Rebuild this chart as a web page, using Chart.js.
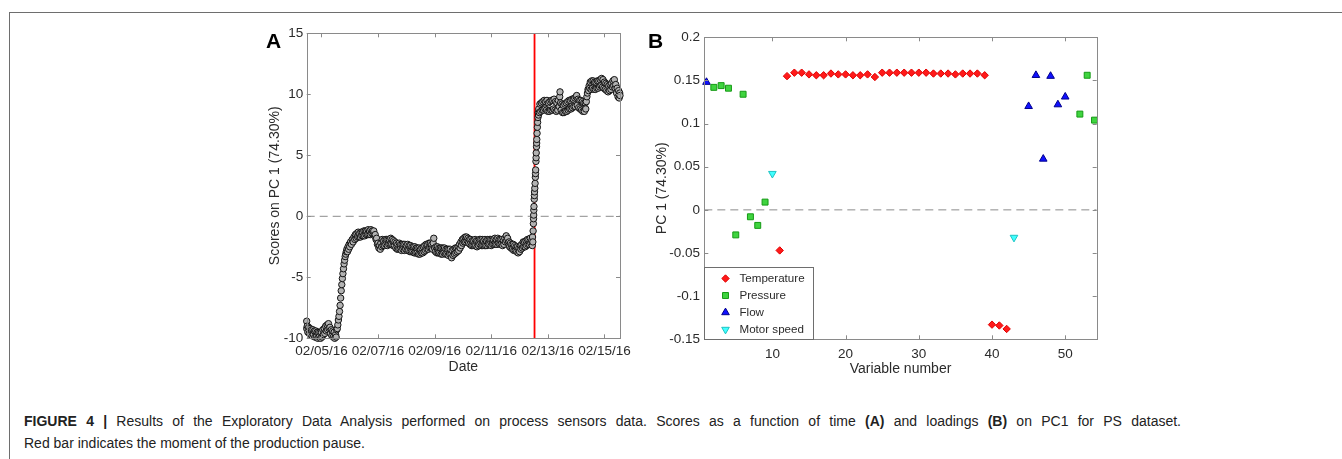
<!DOCTYPE html>
<html>
<head>
<meta charset="utf-8">
<script src="https://cdn.jsdelivr.net/npm/chart.js@4.4.1/dist/chart.umd.min.js"></script>
<style>
  html, body { margin: 0; padding: 0; background: #fff; }
  body { width: 1342px; height: 459px; position: relative; overflow: hidden;
         font-family: "Liberation Sans", Arial, Helvetica, sans-serif; }
  .frame { position: absolute; left: 9px; top: 12px; width: 1340px; height: 460px;
           border-top: 1px solid #6e6e6e; border-left: 1px solid #6e6e6e; }
  .wrap { position: absolute; }
  #wrapA { left: 250px; top: 20px; }
  #wrapB { left: 640px; top: 20px; }
  .tag { position: absolute; font-weight: bold; font-size: 21px; color: #000; line-height: 1; }
  .caption { position: absolute; left: 24px; font-size: 14px; color: #222; line-height: 22px; white-space: nowrap; }
  .justify { width: 1157px; text-align: justify; text-align-last: justify; white-space: normal; }
</style>
</head>
<body>
<div class="frame"></div>
<div class="wrap" id="wrapA"><canvas id="chartA" width="390" height="370"></canvas></div>
<div class="wrap" id="wrapB"><canvas id="chartB" width="470" height="375"></canvas></div>
<div class="tag" style="left:266px; top:30px;">A</div>
<div class="tag" style="left:648px; top:30px;">B</div>
<div class="caption justify" style="top:410px;"><b>FIGURE 4 |</b> Results of the Exploratory Data Analysis performed on process sensors data. Scores as a function of time <b>(A)</b> and loadings <b>(B)</b> on PC1 for PS dataset.</div>
<div class="caption" style="top:432px;">Red bar indicates the moment of the production pause.</div>

<script>
// panel A: scores on PC1 over time, [day of Feb 2016, score]
const scorePoints = [
  [4.48,-8.6],[4.48,-9.2],[4.50,-9.0],[4.52,-9.5],[4.55,-9.1],[4.57,-9.6],[4.60,-9.2],[4.62,-9.7],[4.65,-9.3],
  [4.67,-9.8],[4.70,-9.3],[4.72,-9.7],[4.75,-9.4],[4.77,-9.9],[4.80,-9.4],[4.82,-9.9],[4.85,-9.5],[4.87,-10.0],
  [4.90,-9.5],[4.92,-9.9],[4.95,-9.5],[4.97,-10.0],[5.00,-9.5],[5.02,-9.9],[5.05,-9.3],[5.07,-9.7],[5.10,-9.2],
  [5.12,-9.6],[5.15,-9.0],[5.17,-9.4],[5.20,-8.9],[5.22,-9.3],[5.25,-8.8],[5.27,-9.2],[5.30,-9.1],[5.32,-9.6],
  [5.35,-9.3],[5.37,-9.8],[5.40,-9.4],[5.42,-9.9],[5.45,-9.5],[5.47,-10.0],[5.50,-9.7],[5.52,-9.9],[5.54,-9.3],
  [5.56,-9.2],[5.58,-8.9],[5.60,-8.5],[5.62,-8.2],[5.64,-7.8],[5.66,-7.3],[5.68,-6.7],[5.70,-6.1],[5.72,-5.6],
  [5.74,-5.1],[5.76,-4.7],[5.78,-4.3],[5.80,-3.9],[5.82,-3.6],[5.84,-3.3],[5.86,-3.1],[5.88,-2.9],[5.90,-2.7],
  [5.92,-2.9],[5.94,-2.5],[5.96,-2.7],[5.98,-2.3],[6.00,-2.5],[6.03,-2.1],[6.06,-2.3],[6.09,-1.9],[6.12,-2.1],
  [6.15,-1.7],[6.18,-1.9],
  [6.20,-1.5],[6.23,-1.8],[6.25,-1.4],[6.28,-1.7],[6.30,-1.3],[6.33,-1.7],[6.35,-1.4],[6.38,-1.7],[6.40,-1.3],
  [6.43,-1.6],[6.45,-1.3],[6.48,-1.6],[6.50,-1.2],[6.53,-1.6],[6.55,-1.2],[6.58,-1.5],[6.60,-1.2],[6.63,-1.5],
  [6.65,-1.1],[6.68,-1.5],[6.70,-1.2],[6.73,-1.5],[6.75,-1.1],[6.78,-1.4],[6.80,-1.2],[6.83,-1.5],[6.85,-1.2],
  [6.88,-1.6],[6.90,-1.5],[6.93,-1.9],[6.95,-1.8],[6.98,-2.3],[7.00,-2.2],[7.03,-2.6],[7.05,-2.4],[7.08,-2.7],
  [7.10,-2.2],[7.13,-2.5],[7.15,-1.9],[7.18,-2.4],[7.20,-2.0],[7.23,-2.4],[7.25,-1.9],[7.28,-2.3],[7.30,-1.9],
  [7.33,-2.4],[7.35,-1.9],[7.38,-2.3],[7.40,-1.9],[7.43,-2.3],[7.45,-1.8],[7.48,-2.3],[7.50,-1.9],[7.53,-2.4],
  [7.55,-2.0],[7.58,-2.4],[7.60,-2.1],[7.63,-2.6],[7.65,-2.2],[7.68,-2.7],[7.70,-2.3],[7.73,-2.7],[7.75,-2.2],
  [7.78,-2.7],[7.80,-2.3],[7.83,-2.8],[7.85,-2.3],[7.88,-2.7],[7.90,-2.3],[7.93,-2.8],[7.95,-2.3],[7.98,-2.7],
  [8.00,-2.4],[8.03,-2.8],[8.05,-2.3],[8.08,-2.8],[8.10,-2.4],[8.13,-2.9],[8.15,-2.4],[8.18,-2.9],[8.20,-2.5],
  [8.23,-2.9],[8.25,-2.5],[8.28,-3.0],[8.30,-2.5],[8.33,-3.0],[8.35,-2.6],[8.38,-3.0],[8.40,-2.6],[8.43,-3.1],
  [8.45,-2.6],[8.48,-3.1],[8.50,-2.7],[8.53,-3.0],[8.55,-2.6],[8.58,-3.0],[8.60,-2.5],[8.63,-2.9],[8.65,-2.4],
  [8.68,-2.8],[8.70,-2.3],[8.73,-2.7],[8.75,-2.3],[8.78,-2.7],[8.80,-2.2],[8.83,-2.6],[8.85,-2.2],[8.88,-2.6],
  [8.90,-2.3],[8.93,-2.7],[8.95,-2.2],[8.97,-1.8],[9.00,-2.6],[9.03,-2.9],[9.05,-2.5],[9.08,-3.0],[9.10,-2.5],
  [9.13,-3.0],[9.15,-2.6],[9.18,-3.0],[9.20,-2.6],[9.23,-3.1],[9.25,-2.6],[9.28,-3.1],[9.30,-2.6],[9.33,-3.0],
  [9.35,-2.6],[9.38,-3.1],[9.40,-2.7],[9.43,-3.1],[9.45,-2.7],[9.48,-3.2],[9.50,-2.7],[9.53,-3.1],[9.55,-2.7],
  [9.58,-3.1],[9.60,-3.4],[9.62,-2.8],[9.65,-3.2],[9.68,-2.7],[9.70,-3.1],[9.73,-2.6],[9.75,-3.0],[9.78,-2.6],
  [9.80,-2.9],[9.83,-2.5],[9.85,-2.8],[9.88,-2.3],[9.90,-2.6],[9.93,-2.1],[9.95,-2.4],[9.98,-1.9],[10.00,-2.2],
  [10.03,-1.8],[10.05,-2.1],[10.08,-1.7],[10.10,-2.1],[10.13,-1.7],[10.15,-2.0],[10.18,-1.8],[10.20,-2.2],
  [10.23,-1.9],[10.25,-2.3],[10.28,-1.9],[10.30,-2.4],[10.33,-2.0],[10.35,-2.4],[10.38,-2.0],[10.40,-2.4],
  [10.43,-1.9],[10.45,-2.4],[10.48,-2.0],[10.50,-2.5],[10.53,-2.0],[10.55,-2.4],[10.58,-1.9],[10.60,-2.3],
  [10.63,-1.9],[10.65,-2.4],[10.68,-1.9],[10.70,-2.4],[10.73,-2.0],[10.75,-2.4],[10.78,-1.9],[10.80,-2.4],
  [10.83,-2.0],[10.85,-2.4],[10.88,-1.9],[10.90,-2.3],[10.93,-1.9],[10.95,-2.3],[10.98,-1.9],[11.00,-2.4],
  [11.03,-1.9],[11.05,-2.3],[11.08,-1.9],[11.10,-2.3],[11.13,-1.8],[11.15,-2.3],[11.18,-1.9],[11.20,-2.3],
  [11.23,-1.8],[11.25,-2.2],[11.28,-1.9],[11.30,-2.3],[11.33,-1.9],[11.35,-2.3],[11.38,-1.9],[11.40,-2.4],
  [11.43,-2.0],[11.45,-2.3],[11.48,-1.8],[11.50,-2.1],[11.53,-1.6],[11.55,-2.0],[11.58,-1.8],[11.60,-2.2],
  [11.63,-2.1],[11.65,-2.5],[11.68,-2.2],[11.70,-2.6],[11.73,-2.3],[11.75,-2.7],[11.78,-2.3],[11.80,-2.8],
  [11.83,-2.4],[11.85,-2.8],[11.88,-2.5],[11.90,-2.9],[11.93,-2.5],[11.95,-3.0],[11.98,-2.6],[12.00,-2.9],
  [12.03,-2.4],[12.05,-2.7],[12.08,-2.3],[12.10,-2.6],[12.13,-2.1],[12.15,-2.5],[12.18,-2.1],[12.20,-2.5],
  [12.23,-2.0],[12.25,-2.4],[12.28,-1.9],[12.30,-2.3],[12.33,-1.9],[12.35,-2.3],[12.38,-1.8],[12.40,-2.2],
  [12.43,-2.0],[12.45,-2.4],[12.46,-1.7],[12.47,-2.1],
  [12.48,-1.2],[12.49,-0.6],[12.495,-0.2],[12.50,0.1],[12.505,0.5],[12.51,0.8],[12.52,1.4],[12.525,1.7],
  [12.53,2.0],[12.54,2.3],[12.55,2.7],[12.56,3.2],[12.565,3.5],[12.57,3.8],[12.58,4.5],[12.585,4.8],
  [12.59,5.2],[12.60,5.7],[12.605,6.0],[12.61,6.3],[12.62,6.8],[12.63,7.3],[12.64,7.7],[12.65,8.1],
  [12.66,8.5],[12.67,8.3],[12.68,8.8],
  [12.70,8.5],[12.72,9.2],[12.75,8.6],[12.77,9.3],[12.80,8.7],[12.82,9.4],[12.85,8.7],[12.87,9.5],[12.90,8.8],
  [12.92,9.4],[12.95,8.7],[12.97,9.5],[13.00,8.6],[13.02,9.3],[13.05,8.6],[13.07,9.4],[13.10,8.7],[13.12,9.5],
  [13.15,8.7],[13.17,9.5],[13.20,8.8],[13.22,9.6],[13.25,8.7],[13.27,9.4],[13.30,8.6],[13.32,9.3],[13.35,8.7],
  [13.37,9.5],[13.40,9.0],[13.42,9.8],[13.43,10.2],[13.45,9.3],[13.47,8.7],[13.50,9.2],[13.52,8.5],[13.55,9.1],
  [13.57,8.5],[13.60,9.2],[13.62,8.6],[13.65,9.3],[13.67,8.6],[13.70,9.4],[13.72,8.7],[13.75,9.5],[13.77,8.8],
  [13.80,9.5],[13.82,8.8],[13.85,9.6],[13.87,8.9],[13.90,9.6],[13.92,9.0],[13.95,9.7],[13.97,9.0],[14.00,9.8],
  [14.02,9.9],[14.04,9.1],[14.07,9.6],[14.09,8.9],[14.12,9.5],[14.14,8.8],[14.17,9.5],[14.19,8.7],[14.22,9.4],
  [14.24,8.6],[14.27,9.3],[14.29,8.6],[14.32,9.3],[14.34,8.8],[14.36,9.4],[14.38,9.8],[14.40,10.1],[14.42,10.4],
  [14.44,10.3],[14.46,10.7],[14.48,10.5],[14.50,11.0],[14.53,10.4],[14.55,11.1],[14.58,10.5],[14.60,11.1],
  [14.63,10.4],[14.65,11.0],[14.68,10.4],[14.70,11.0],[14.73,10.5],[14.75,11.1],[14.78,10.5],[14.80,11.1],
  [14.83,10.6],[14.85,11.2],[14.88,10.7],[14.90,11.3],[14.93,10.6],[14.95,11.2],[14.98,10.5],[15.00,11.0],
  [15.03,10.4],[15.05,10.9],[15.08,10.3],[15.10,10.8],[15.13,10.2],[15.15,10.7],[15.18,10.3],[15.20,10.8],
  [15.23,10.4],[15.25,10.9],[15.28,10.6],[15.30,11.1],[15.33,10.7],[15.35,11.2],[15.38,10.5],[15.40,10.8],
  [15.43,10.1],[15.45,10.5],[15.48,9.8],[15.50,10.3],[15.52,9.7],[15.54,10.1],[15.55,9.9]
]
const dateTicks = [5, 7, 9, 11, 13, 15]
const dateLabels = ['02/05/16', '02/07/16', '02/09/16', '02/11/16', '02/13/16', '02/15/16']
const pauseDay = 12.53
const scoreRange = [-10, 15]
const dayRange = [4.48, 15.55]

// panel B: loadings on PC1, [variable number, loading]
const temperature = [
  [11, -0.047], [12, 0.155], [13, 0.159], [14, 0.159], [15, 0.157], [16, 0.156], [17, 0.156],
  [18, 0.158], [19, 0.157], [20, 0.157], [21, 0.156], [22, 0.156], [23, 0.157], [24, 0.154],
  [25, 0.159], [26, 0.159], [27, 0.159], [28, 0.159], [29, 0.159], [30, 0.159], [31, 0.159],
  [32, 0.158], [33, 0.158], [34, 0.158], [35, 0.157], [36, 0.158], [37, 0.158], [38, 0.158],
  [39, 0.156], [40, -0.133], [41, -0.134], [42, -0.138]
]
const pressure = [
  [2, 0.142], [3, 0.144], [4, 0.141], [5, -0.029], [6, 0.134], [7, -0.008], [8, -0.018],
  [9, 0.009], [52, 0.111], [53, 0.156], [54, 0.104]
]
const flow = [
  [1, 0.148], [45, 0.120], [46, 0.156], [47, 0.059], [48, 0.155], [49, 0.122], [50, 0.131]
]
const motorSpeed = [[10, 0.042], [43, -0.032]]
const variableTicks = [10, 20, 30, 40, 50]
const variableRange = [0.7, 54.3]
const loadingRange = [-0.15, 0.2]

const toXY = (pairs) => pairs.map(([x, y]) => ({ x, y }))
const axisGray = '#8a8a8a'
const textGray = '#2b2b2b'
const fontFamily = '"Liberation Sans", Arial, Helvetica, sans-serif'

// matlab-like box with inward ticks on all four sides
const boxPlugin = {
  id: 'boxPlugin',
  afterDatasetsDraw(chart) {
    const { ctx, chartArea: a, scales } = chart
    const tl = 4
    ctx.save()
    ctx.strokeStyle = axisGray
    ctx.lineWidth = 1
    ctx.strokeRect(Math.round(a.left) + 0.5, Math.round(a.top) + 0.5,
      Math.round(a.right) - Math.round(a.left), Math.round(a.bottom) - Math.round(a.top))
    ctx.beginPath()
    scales.x.ticks.forEach((t) => {
      const px = Math.round(scales.x.getPixelForValue(t.value)) + 0.5
      ctx.moveTo(px, a.top); ctx.lineTo(px, a.top + tl)
      ctx.moveTo(px, a.bottom); ctx.lineTo(px, a.bottom - tl)
    })
    scales.y.ticks.forEach((t) => {
      const py = Math.round(scales.y.getPixelForValue(t.value)) + 0.5
      ctx.moveTo(a.left, py); ctx.lineTo(a.left + tl, py)
      ctx.moveTo(a.right, py); ctx.lineTo(a.right - tl, py)
    })
    ctx.stroke()
    ctx.restore()
  },
}

// legend box in the lower left corner of panel B
const cornerLegend = {
  id: 'cornerLegend',
  afterDraw(chart) {
    const { ctx, chartArea: a } = chart
    const items = chart.data.datasets.filter((d) => d.label)
    const w = 109, h = 72
    const left = Math.round(a.left) + 0.5, top = Math.round(a.bottom) - h + 0.5
    ctx.save()
    ctx.fillStyle = '#fff'
    ctx.strokeStyle = '#6e6e6e'
    ctx.lineWidth = 1
    ctx.fillRect(left, top, w, h)
    ctx.strokeRect(left, top, w, h)
    ctx.font = '11.6px ' + fontFamily
    ctx.textBaseline = 'middle'
    items.forEach((d, i) => {
      const y = top + 11 + i * 17
      ctx.fillStyle = d.backgroundColor
      ctx.strokeStyle = d.borderColor
      ctx.lineWidth = d.borderWidth
      Chart.helpers.drawPoint(ctx, {
        pointStyle: d.pointStyle, radius: d.pointRadius, rotation: d.rotation || 0,
        borderWidth: d.borderWidth,
      }, left + 21, y)
      ctx.fillStyle = textGray
      ctx.fillText(d.label, left + 35, y + 0.5)
    })
    ctx.restore()
  },
}

const tickFont = { family: fontFamily, size: 13.5 }
const titleFont = { family: fontFamily, size: 14 }

// chart A
new Chart(document.getElementById('chartA'), {
  type: 'scatter',
  data: {
    datasets: [
      {
        data: toXY(scorePoints),
        pointStyle: 'circle',
        pointRadius: 3.2,
        borderWidth: 1,
        borderColor: '#111111',
        backgroundColor: '#b3b3b3',
        clip: false,
      },
      {
        type: 'line',
        data: [{ x: dayRange[0], y: 0 }, { x: dayRange[1], y: 0 }],
        borderColor: '#8c8c8c',
        borderWidth: 1,
        borderDash: [8, 5],
        pointRadius: 0,
      },
      {
        type: 'line',
        data: [{ x: pauseDay, y: scoreRange[0] }, { x: pauseDay, y: scoreRange[1] }],
        borderColor: '#ff0000',
        borderWidth: 1.8,
        pointRadius: 0,
      },
    ],
  },
  options: {
    responsive: false,
    animation: false,
    devicePixelRatio: 1,
    layout: { padding: { top: 13.3, right: 20, left: 0, bottom: 0 } },
    plugins: { legend: { display: false }, tooltip: { enabled: false } },
    scales: {
      x: {
        type: 'linear',
        min: dayRange[0],
        max: dayRange[1],
        afterBuildTicks: (s) => { s.ticks = dateTicks.map((v) => ({ value: v })) },
        afterFit: (s) => { s.height = 51.7 },
        grid: { display: false, drawTicks: false },
        border: { display: false },
        ticks: {
          font: tickFont, color: textGray, padding: 5, maxRotation: 0, autoSkip: false,
          callback: (v) => dateLabels[dateTicks.indexOf(v)],
        },
        title: { display: true, text: 'Date', font: titleFont, color: textGray, padding: { top: 0, bottom: 14.6 } },
      },
      y: {
        min: scoreRange[0],
        max: scoreRange[1],
        afterFit: (s) => { s.width = 56.7 },
        grid: { display: false, drawTicks: false },
        border: { display: false },
        ticks: { stepSize: 5, font: tickFont, color: textGray, padding: 3.4, callback: (v) => String(v) },
        title: { display: true, text: 'Scores on PC 1 (74.30%)', font: titleFont, color: textGray, padding: { top: 16.6, bottom: 0 } },
      },
    },
  },
  plugins: [boxPlugin],
})

// chart B
const markerSet = (label, pts, style, radius, fill, edge, rotation) => ({
  label, data: toXY(pts), pointStyle: style, pointRadius: radius, rotation: rotation || 0,
  backgroundColor: fill, borderColor: edge, borderWidth: 1, clip: false,
})

new Chart(document.getElementById('chartB'), {
  type: 'scatter',
  data: {
    datasets: [
      {
        type: 'line',
        data: [{ x: variableRange[0], y: 0 }, { x: variableRange[1], y: 0 }],
        borderColor: '#8c8c8c',
        borderWidth: 1,
        borderDash: [8, 5],
        pointRadius: 0,
      },
      markerSet('Temperature', temperature, 'rectRot', 3.7, '#ff1a1a', '#e00000'),
      markerSet('Pressure', pressure, 'rect', 4.2, '#3fd43f', '#159a15'),
      markerSet('Flow', flow, 'triangle', 4.4, '#1010ff', '#00008c'),
      markerSet('Motor speed', motorSpeed, 'triangle', 4.4, '#40ffff', '#1fc4c4', 180),
    ],
  },
  options: {
    responsive: false,
    animation: false,
    devicePixelRatio: 1,
    layout: { padding: { top: 17.3, right: 13.3, left: 0, bottom: 0 } },
    plugins: { legend: { display: false }, tooltip: { enabled: false } },
    scales: {
      x: {
        type: 'linear',
        min: variableRange[0],
        max: variableRange[1],
        afterBuildTicks: (s) => { s.ticks = variableTicks.map((v) => ({ value: v })) },
        afterFit: (s) => { s.height = 55.7 },
        grid: { display: false, drawTicks: false },
        border: { display: false },
        ticks: { font: tickFont, color: textGray, padding: 7, maxRotation: 0, autoSkip: false, callback: (v) => String(v) },
        title: { display: true, text: 'Variable number', font: titleFont, color: textGray, padding: { top: 0, bottom: 17.6 } },
      },
      y: {
        min: loadingRange[0],
        max: loadingRange[1],
        afterFit: (s) => { s.width = 64.3 },
        grid: { display: false, drawTicks: false },
        border: { display: false },
        ticks: { stepSize: 0.05, font: tickFont, color: textGray, padding: 4.3, callback: (v) => String(+v.toFixed(2)) },
        title: { display: true, text: 'PC 1 (74.30%)', font: titleFont, color: textGray, padding: { top: 13.3, bottom: 0 } },
      },
    },
  },
  plugins: [boxPlugin, cornerLegend],
})
</script>
</body>
</html>
